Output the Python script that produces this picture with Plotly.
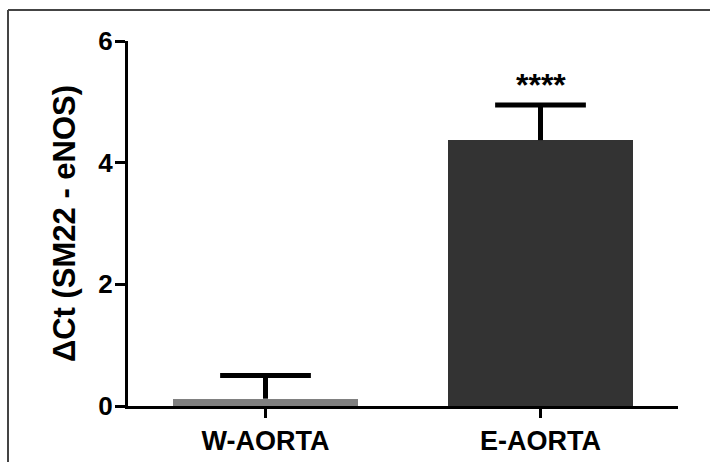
import plotly.graph_objects as go

# Group means and SD of delta Ct (SM22 - eNOS)
groups = ["W-AORTA", "E-AORTA"]
means = [0.12, 4.37]
sds = [0.38, 0.58]
bar_colors = ["#808080", "#333333"]
significance = ["", "****"]
y_ticks = [0, 2, 4, 6]

FONT = "Liberation Sans, Arial, sans-serif"
positions = list(range(len(groups)))
bar_width = 0.67
cap_half = 0.165

fig = go.Figure()

fig.add_trace(go.Bar(
    x=positions,
    y=means,
    width=bar_width,
    marker=dict(color=bar_colors, line=dict(width=0)),
    showlegend=False,
    hoverinfo="skip",
))

# One-sided (upper) error bars drawn as stem + cap
ex, ey = [], []
for p, m, s in zip(positions, means, sds):
    ex += [p, p, None, p - cap_half, p + cap_half, None]
    ey += [m, m + s, None, m + s, m + s, None]
fig.add_trace(go.Scatter(
    x=ex, y=ey, mode="lines",
    line=dict(color="black", width=5),
    showlegend=False, hoverinfo="skip",
))

for p, m, s, label in zip(positions, means, sds, significance):
    if label:
        fig.add_annotation(
            x=p, y=m + s, text=label, showarrow=False,
            yanchor="bottom", yshift=0,
            font=dict(family=FONT, size=32, color="black", weight="bold"),
        )

fig.update_layout(
    width=710, height=462, autosize=False,
    margin=dict(l=128, r=32, t=41, b=56, pad=0),
    plot_bgcolor="white", paper_bgcolor="white",
    bargap=0,
    font=dict(family=FONT, color="black"),
    shapes=[
        # frame lines along top and left edges of the figure
        dict(type="line", xref="paper", yref="paper",
             x0=(8 - 128) / 550, x1=(712 - 128) / 550,
             y0=(406 - 10) / 365, y1=(406 - 10) / 365,
             line=dict(color="#444444", width=2)),
        dict(type="line", xref="paper", yref="paper",
             x0=(8 - 128) / 550, x1=(8 - 128) / 550,
             y0=(406 - 10) / 365, y1=(406 - 464) / 365,
             line=dict(color="#444444", width=2)),
    ],
)

fig.update_xaxes(
    range=[-0.5, 1.5], automargin=False,
    tickmode="array", tickvals=positions, ticktext=groups,
    showline=True, linecolor="black", linewidth=3,
    ticks="outside", ticklen=9, tickwidth=3, tickcolor="black",
    tickfont=dict(family=FONT, size=27, color="black", weight="bold"),
    showgrid=False, zeroline=False,
)

fig.update_yaxes(
    range=[0, 6], automargin=False,
    tickmode="array", tickvals=y_ticks,
    showline=True, linecolor="black", linewidth=3,
    ticks="outside", ticklen=10, tickwidth=3, tickcolor="black",
    ticklabelstandoff=-3,
    tickfont=dict(family=FONT, size=26, color="black", weight="bold"),
    showgrid=False, zeroline=False,
    title=dict(text="\u0394Ct (SM22 - eNOS)", standoff=14,
               font=dict(family=FONT, size=31, color="black", weight="bold")),
)

fig.write_html("out.html")
